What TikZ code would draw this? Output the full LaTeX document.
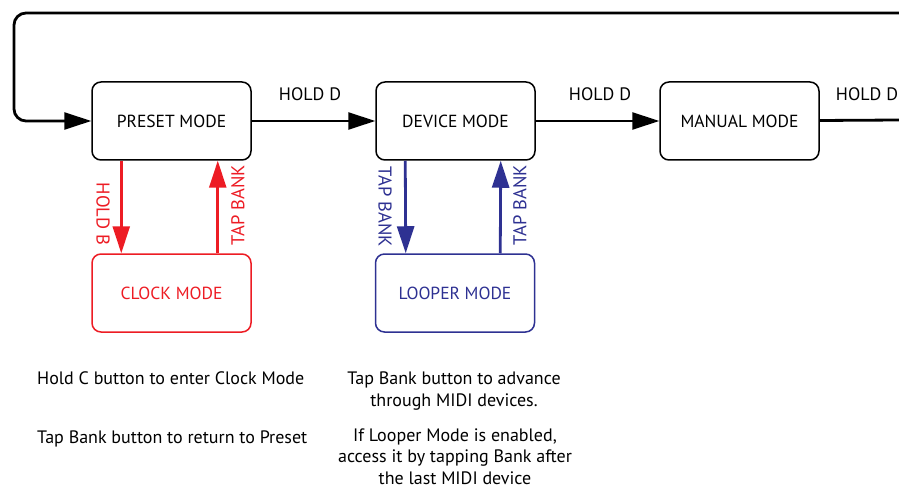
\documentclass[tikz,border=0pt]{standalone}
\usepackage{fontspec}
\setmainfont{PT Sans}
\usetikzlibrary{arrows.meta,positioning}

\definecolor{clockred}{HTML}{ED1C24}
\definecolor{looperblue}{HTML}{2E3192}

\tikzset{
    modebox/.style={draw, line width=1.5pt, rounded corners=9pt,
        minimum width=159pt, minimum height=78pt, font=\fontsize{17.5}{20}\selectfont},
    flow/.style={line width=2.8pt, -{Triangle[length=27pt,width=17pt]}},
    lbl/.style={font=\fontsize{18}{20}\selectfont, inner sep=1pt},
    sidelbl/.style={font=\fontsize{18.5}{20}\selectfont, inner sep=1pt},
    note/.style={font=\fontsize{18}{21.5}\selectfont, inner sep=0pt}
}

\begin{document}
\begin{tikzpicture}[x=1pt,y=1pt]
    \useasboundingbox (0,0) rectangle (899,-489);

    % main modes
    \node[modebox] (preset) at (171.5,-121) {PRESET MODE};
    \node[modebox] (device) at (455.5,-121) {DEVICE MODE};
    \node[modebox] (manual) at (739.5,-121) {MANUAL MODE};

    % sub modes
    \node[modebox, draw=clockred, text=clockred] (clock) at (171.5,-293) {CLOCK MODE};
    \node[modebox, draw=looperblue, text=looperblue] (looper) at (455,-293) {LOOPER MODE};

    % loop back to start
    \coordinate (outR) at (899,-120);
    \coordinate (inR) at (899,-13);
    \coordinate (turn) at (14,-13);

    \draw[flow] (preset) -- (device);
    \draw[flow] (device) -- (manual);
    \draw[line width=2.8pt] (manual) -- (outR);
    \draw[flow, rounded corners=12pt] (inR) -- (turn) |- (preset.west);

    \node[lbl] (hd1) at (310,-94) {HOLD D};
    \node[lbl] (hd2) at (600,-94) {HOLD D};
    \node[lbl] (hd3) at (867,-94) {HOLD D};

    % clock mode arrows
    \draw[flow, clockred] ([xshift=30pt]preset.south west) -- ([xshift=30pt]clock.north west);
    \draw[flow, clockred] ([xshift=-34pt]clock.north east) -- ([xshift=-34pt]preset.south east);
    \node[sidelbl, clockred, rotate=-90] (holdb) at (103,-214) {HOLD B};
    \node[sidelbl, clockred, rotate=90] (tapc) at (238,-205) {TAP BANK};

    % looper mode arrows
    \draw[flow, looperblue] ([xshift=30pt]device.south west) -- ([xshift=31pt]looper.north west);
    \draw[flow, looperblue] ([xshift=-35pt]looper.north east) -- ([xshift=-35pt]device.south east);
    \node[sidelbl, looperblue, rotate=-90] (tapl1) at (385,-207) {TAP BANK};
    \node[sidelbl, looperblue, rotate=90] (tapl2) at (520,-205) {TAP BANK};

    % notes
    \node[note, anchor=base west] (n1) at (37,-384) {Hold C button to enter Clock Mode};
    \node[note, anchor=base west] (n2) at (37,-443) {Tap Bank button to return to Preset};
    \node[note, align=center, anchor=base] (n3) at (454,-406) {Tap Bank button to advance\\through MIDI devices.};
    \node[note, align=center, anchor=base] (n4) at (455,-484) {If Looper Mode is enabled,\\access it by tapping Bank after\\the last MIDI device};
\end{tikzpicture}
\end{document}
